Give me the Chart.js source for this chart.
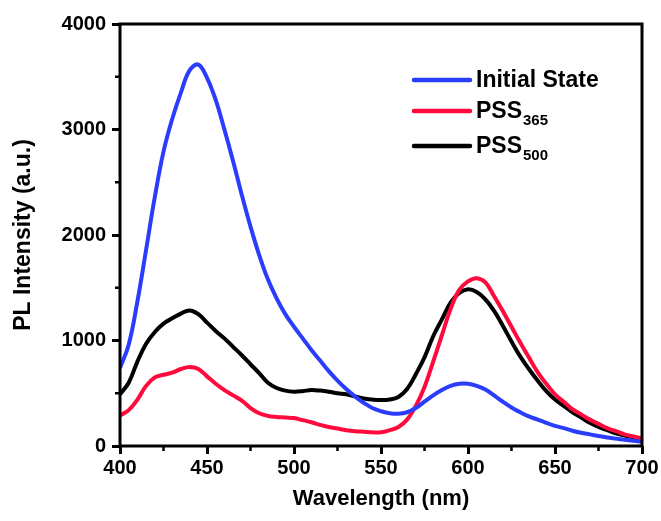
<!DOCTYPE html>
<html>
<head>
<meta charset="utf-8">
<script src="https://cdn.jsdelivr.net/npm/chart.js@4"></script>
<style>
  html, body { margin: 0; padding: 0; background: #fff; }
  canvas { display: block; }
</style>
</head>
<body>
<canvas id="plChart" width="661" height="521"></canvas>
<script>
// Emission spectra, sampled every 5 nm
const wavelengths = [
  400, 405, 410, 415, 420, 425, 430, 435, 440, 445,
  450, 455, 460, 465, 470, 475, 480, 485, 490, 495,
  500, 505, 510, 515, 520, 525, 530, 535, 540, 545,
  550, 555, 560, 565, 570, 575, 580, 585, 590, 595,
  600, 605, 610, 615, 620, 625, 630, 635, 640, 645,
  650, 655, 660, 665, 670, 675, 680, 685, 690, 695, 700
];
const initialState = [
  740, 960, 1370, 1860, 2360, 2790, 3100, 3350, 3560, 3615,
  3490, 3280, 3000, 2700, 2380, 2080, 1810, 1580, 1400, 1250,
  1130, 1020, 910, 810, 710, 620, 540, 470, 410, 360,
  330, 310, 305, 320, 360, 420, 480, 530, 570, 590,
  590, 570, 535, 480, 420, 365, 320, 280, 250, 220,
  190, 170, 145, 125, 110, 95, 80, 70, 60, 50, 40
];
const pss365 = [
  290, 340, 440, 570, 650, 675, 695, 730, 750, 730,
  660, 590, 530, 480, 430, 360, 310, 285, 275, 270,
  265, 245, 225, 200, 180, 165, 150, 140, 135, 130,
  130, 150, 180, 250, 380, 560, 800, 1050, 1300, 1480,
  1560, 1590, 1550, 1420, 1280, 1130, 980, 840, 700, 590,
  490, 420, 350, 300, 250, 210, 170, 140, 110, 90, 70
];
const pss500 = [
  490, 600, 800, 970, 1080, 1160, 1210, 1255, 1285, 1250,
  1170, 1090, 1020, 940, 860, 775, 690, 600, 550, 525,
  515, 520, 530, 525, 515, 500, 490, 470, 450, 440,
  435, 440, 465, 540, 680, 840, 1040, 1200, 1360, 1450,
  1485, 1460, 1390, 1280, 1140, 990, 850, 730, 620, 520,
  440, 380, 320, 270, 220, 180, 150, 120, 100, 80, 60
];

const seriesNames = ["Initial State", "PSS", "PSS"];
const seriesSubs = ["", "365", "500"];
const seriesColors = ["#2b3dfc", "#ff0a3c", "#000000"];
const seriesValues = [initialState, pss365, pss500];

const xTicks = [400, 450, 500, 550, 600, 650, 700];
const xMinorTicks = [425, 475, 525, 575, 625, 675];
const yTicks = [0, 1000, 2000, 3000, 4000];
const yMinorTicks = [500, 1500, 2500, 3500];

const FONT = "Arial, 'Liberation Sans', sans-serif";

// Box around the plot area plus the short minor tick marks
const framePlugin = {
  id: "frame",
  afterDraw(chart) {
    const { ctx, chartArea: a, scales } = chart;
    ctx.save();
    ctx.strokeStyle = "#000";
    ctx.lineWidth = 3;
    ctx.strokeRect(a.left, a.top, a.right - a.left, a.bottom - a.top);

    ctx.lineWidth = 2.5;
    ctx.beginPath();
    xMinorTicks.forEach((v) => {
      const px = scales.x.getPixelForValue(v);
      ctx.moveTo(px, a.bottom);
      ctx.lineTo(px, a.bottom + 5);
    });
    yMinorTicks.forEach((v) => {
      const py = scales.y.getPixelForValue(v);
      ctx.moveTo(a.left, py);
      ctx.lineTo(a.left - 5, py);
    });
    ctx.stroke();
    ctx.restore();
  },
};

// Legend in the upper right, with subscripted labels
const legendPlugin = {
  id: "subLegend",
  afterDraw(chart) {
    const { ctx } = chart;
    const rowY = [80, 111, 146];
    const x0 = 414, x1 = 470;
    ctx.save();
    chart.data.datasets.forEach((ds, i) => {
      const y = rowY[i];
      ctx.strokeStyle = ds.borderColor;
      ctx.lineWidth = 4.5;
      ctx.lineCap = "round";
      ctx.beginPath();
      ctx.moveTo(x0, y);
      ctx.lineTo(x1, y);
      ctx.stroke();

      ctx.fillStyle = "#000";
      ctx.textBaseline = "alphabetic";
      ctx.textAlign = "left";
      ctx.font = "bold 23px " + FONT;
      ctx.fillText(seriesNames[i], x1 + 6, y + 7);
      if (seriesSubs[i]) {
        const w = ctx.measureText(seriesNames[i]).width;
        ctx.font = "bold 15px " + FONT;
        ctx.fillText(seriesSubs[i], x1 + 7 + w, y + 14);
      }
    });
    ctx.restore();
  },
};

const ctx = document.getElementById("plChart").getContext("2d");
const plChart = new Chart(ctx, {
  type: "line",
  data: {
    datasets: seriesValues.map((vals, i) => ({
      label: seriesNames[i] + seriesSubs[i],
      data: wavelengths.map((w, j) => ({ x: w, y: vals[j] })),
      borderColor: seriesColors[i],
      borderWidth: 4,
      pointRadius: 0,
      tension: 0.4,
      fill: false,
    })),
  },
  options: {
    responsive: false,
    devicePixelRatio: 1,
    animation: false,
    layout: { padding: { left: 0, right: 19, top: 24, bottom: 0 } },
    plugins: {
      legend: { display: false },
      tooltip: { enabled: false },
    },
    scales: {
      x: {
        type: "linear",
        min: 400,
        max: 700,
        afterBuildTicks: (scale) => {
          scale.ticks = xTicks.map((v) => ({ value: v }));
        },
        afterFit: (scale) => {
          scale.height = 75;
        },
        border: { display: false },
        grid: {
          drawOnChartArea: false,
          tickLength: 8,
          tickWidth: 3,
          tickColor: "#000",
        },
        ticks: {
          color: "#000",
          padding: 2,
          maxRotation: 0,
          callback: (v) => String(v),
          font: { family: FONT, size: 20, weight: "bold" },
        },
        title: {
          display: true,
          text: "Wavelength (nm)",
          color: "#000",
          padding: { top: 0, bottom: 9 },
          font: { family: FONT, size: 22, weight: "bold" },
        },
      },
      y: {
        min: 0,
        max: 4000,
        afterBuildTicks: (scale) => {
          scale.ticks = yTicks.map((v) => ({ value: v }));
        },
        afterFit: (scale) => {
          scale.width = 120;
        },
        border: { display: false },
        grid: {
          drawOnChartArea: false,
          tickLength: 8,
          tickWidth: 3,
          tickColor: "#000",
        },
        ticks: {
          color: "#000",
          padding: 6,
          callback: (v) => String(v),
          font: { family: FONT, size: 20, weight: "bold" },
        },
        title: {
          display: true,
          text: "PL Intensity (a.u.)",
          color: "#000",
          padding: { top: 10, bottom: 0 },
          font: { family: FONT, size: 23, weight: "bold" },
        },
      },
    },
  },
  plugins: [framePlugin, legendPlugin],
});
</script>
</body>
</html>
